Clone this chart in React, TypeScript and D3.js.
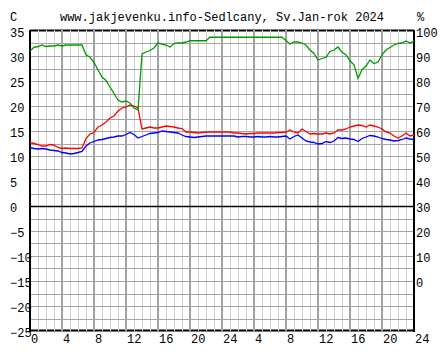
import React from "react";
import * as d3 from "d3";

// readings every half hour, two days (0..48 h)
const tempRed = [
  12.7, 12.5, 12.3, 12.0, 12.0, 12.3, 12.2, 11.7, 11.5, 11.6, 11.5, 11.5, 11.5, 11.6,
  13.5, 14.4, 14.7, 15.8, 16.2, 16.8, 17.6, 18.0, 19.0, 19.6, 19.8, 20.2, 20.0, 19.6,
  15.4, 15.6, 15.8, 15.6, 15.6, 15.8, 16.0, 15.9, 15.8, 15.6, 15.5, 14.8, 14.8, 14.7,
  14.6, 14.7, 14.8, 14.8, 14.8, 14.8, 14.8, 14.8, 14.8, 14.6, 14.6, 14.5, 14.4, 14.5,
  14.5, 14.6, 14.6, 14.6, 14.6, 14.6, 14.7, 14.7, 14.8, 15.2, 14.8, 14.6, 15.4, 14.9,
  14.4, 14.5, 14.4, 14.4, 14.6, 14.4, 14.6, 15.2, 15.2, 15.4, 15.8, 16.0, 16.2, 16.1,
  15.8, 16.2, 16.0, 15.8, 15.4, 14.8, 14.6, 14.0, 13.6, 14.0, 14.6, 14.0, 14.2,
];

const tempBlue = [
  11.7, 11.5, 11.4, 11.5, 11.4, 11.2, 11.1, 11.0, 10.7, 10.6, 10.4, 10.5, 10.7, 10.9,
  12.0, 12.6, 12.9, 13.2, 13.3, 13.5, 13.7, 13.8, 14.0, 14.0, 14.3, 14.7, 14.3, 13.6,
  13.9, 14.2, 14.5, 14.6, 14.7, 15.0, 14.9, 14.8, 14.7, 14.6, 14.2, 13.9, 13.8, 13.7,
  13.8, 13.9, 14.0, 14.0, 14.0, 14.0, 14.0, 14.0, 14.0, 14.0, 13.8, 13.9, 13.9, 13.8,
  13.8, 13.9, 13.8, 13.8, 13.9, 13.8, 13.8, 13.9, 14.0, 13.4, 13.9, 14.2, 13.6, 13.0,
  12.8, 12.7, 12.4, 12.5, 12.9, 12.7, 13.0, 13.7, 13.5, 13.6, 13.4, 13.3, 12.9, 13.5,
  13.8, 14.1, 14.0, 13.8, 13.5, 13.3, 13.2, 13.0, 13.1, 13.3, 13.6, 13.4, 13.3,
];

const humidity = [
  92.0, 93.5, 93.8, 94.4, 93.8, 94.0, 94.0, 94.4, 94.0, 94.4, 94.4, 94.4, 94.4, 94.4,
  90.5, 89.5, 87.5, 84.4, 81.6, 80.2, 77.6, 75.0, 72.4, 71.6, 72.0, 71.2, 69.2, 68.4,
  90.8, 91.6, 92.2, 93.2, 95.2, 94.8, 94.4, 93.6, 95.0, 95.2, 95.2, 95.6, 96.1, 96.1,
  96.1, 96.1, 96.1, 97.5, 97.5, 97.5, 97.5, 97.5, 97.5, 97.5, 97.5, 97.5, 97.5, 97.5,
  97.5, 97.5, 97.5, 97.5, 97.5, 97.5, 97.5, 97.5, 96.2, 94.8, 95.6, 95.6, 95.2, 94.4,
  92.4, 91.0, 88.4, 89.0, 89.5, 91.8, 92.4, 93.6, 91.5, 90.5, 88.0, 86.5, 81.0, 84.5,
  86.0, 88.4, 87.0, 87.6, 90.5, 92.4, 93.4, 94.4, 95.0, 95.2, 96.0, 95.2, 96.0,
];

const tempTicks = [35, 30, 25, 20, 15, 10, 5, 0, -5, -10, -15, -20, -25];
const humTicks = [100, 90, 80, 70, 60, 50, 40, 30, 20, 10, 0];
const hourLabels = ["0", "4", "8", "12", "16", "20", "24", "4", "8", "12", "16", "20", "24"];

const title = "www.jakjevenku.info-Sedlcany, Sv.Jan-rok 2024";

const App = () => {
  const left = 30, right = 414, top = 31, bottom = 331;
  const font = "'Liberation Mono', 'DejaVu Sans Mono', monospace";

  const x = d3.scaleLinear().domain([0, 48]).range([left, right]);
  const yT = d3.scaleLinear().domain([-25, 35]).range([bottom, top]);
  const yH = d3.scaleLinear().domain([30, 100]).range([yT(0), top]);

  const lineT = d3
    .line<number>()
    .x((d, i) => x(i * 0.5))
    .y((d) => yT(d));
  const lineH = d3
    .line<number>()
    .x((d, i) => x(i * 0.5))
    .y((d) => yH(d));

  const hours = d3.range(0, 49);
  const gridT = d3.range(-22.5, 35, 2.5);
  const crisp = (v: number) => Math.round(v) + 0.5;

  return (
    <svg
      width={444}
      height={360}
      style={{ position: "absolute", left: 0, top: 0, background: "#fff" }}
    >
      <text x={222} y={21} textAnchor="middle" fontFamily={font} fontSize={12}>
        {title}
      </text>
      <text x={10} y={21} fontFamily={font} fontSize={12}>C</text>
      <text x={417} y={21} fontFamily={font} fontSize={12}>%</text>

      {/* top / bottom borders, cut by the vertical grid */}
      <line x1={left} x2={right} y1={crisp(top) - 1} y2={crisp(top) - 1} stroke="#000" strokeWidth={2} />
      <line x1={left} x2={right} y1={crisp(bottom) - 1} y2={crisp(bottom) - 1} stroke="#000" strokeWidth={2} />

      {hours.map((h) => (
        <line
          key={"v" + h}
          x1={h % 4 === 0 ? Math.round(x(h)) : crisp(x(h))}
          x2={h % 4 === 0 ? Math.round(x(h)) : crisp(x(h))}
          y1={top - 1}
          y2={bottom}
          stroke={h % 4 === 0 ? "#a4a4a4" : "#d0d0d0"}
          strokeWidth={h % 4 === 0 ? 2 : 1}
        />
      ))}
      {gridT.map((t) => (
        <line
          key={"h" + t}
          x1={left}
          x2={right}
          y1={crisp(yT(t))}
          y2={crisp(yT(t))}
          stroke={t === 0 ? "#000" : "#a4a4a4"}
          strokeWidth={t === 0 ? 1.5 : 1}
        />
      ))}

      <line x1={left} x2={left} y1={top - 1} y2={bottom + 1} stroke="#000" strokeWidth={2} />
      <line x1={right} x2={right} y1={top - 1} y2={bottom + 1} stroke="#000" strokeWidth={2} />

      {tempTicks.map((t) => (
        <text key={"lt" + t} x={10} y={yT(t) + 6} fontFamily={font} fontSize={12}>
          {t < 0 ? "\u2212" + Math.abs(t) : t}
        </text>
      ))}
      {humTicks.map((h) => (
        <text key={"rt" + h} x={right + 2} y={yH(h) + 6} fontFamily={font} fontSize={12}>
          {h}
        </text>
      ))}
      {hourLabels.map((l, i) => (
        <text key={"b" + i} x={x(i * 4) + 1} y={bottom + 12} fontFamily={font} fontSize={12}>
          {l}
        </text>
      ))}

      <path d={lineT(tempRed) || ""} fill="none" stroke="#ff0000" strokeWidth={1.3} />
      <path d={lineT(tempBlue) || ""} fill="none" stroke="#0000ff" strokeWidth={1.3} />
      <path d={lineH(humidity) || ""} fill="none" stroke="#009900" strokeWidth={1.3} />
    </svg>
  );
};

export default App;
